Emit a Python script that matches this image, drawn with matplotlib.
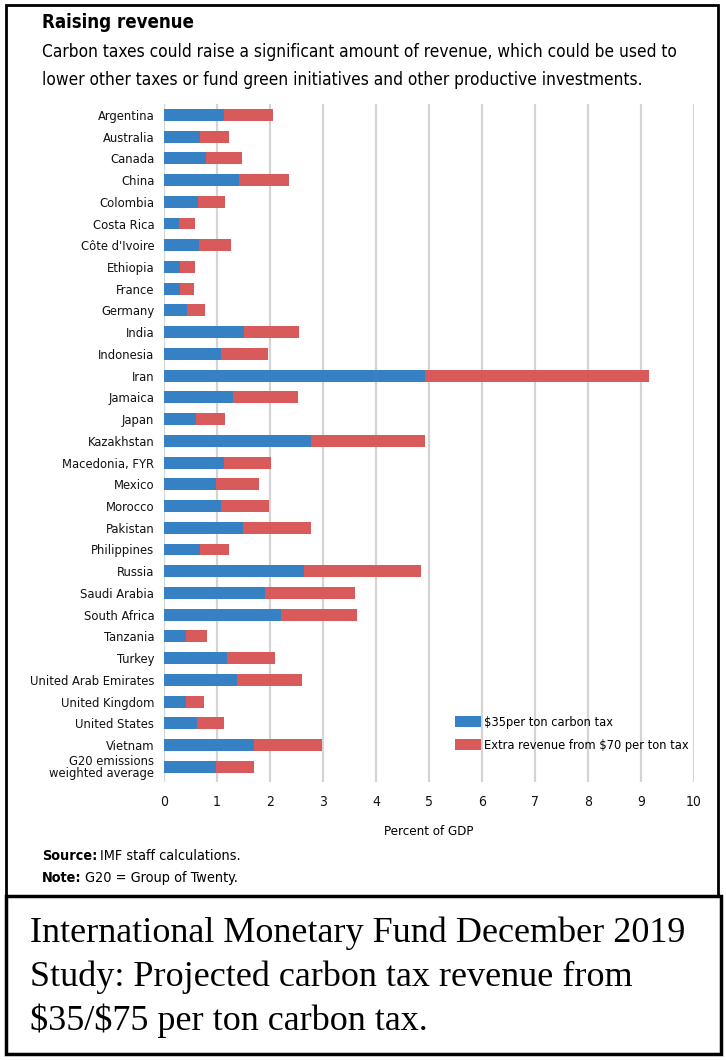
import matplotlib
matplotlib.use("Agg")
import matplotlib.pyplot as plt
from matplotlib.patches import Rectangle

countries = ["Argentina", "Australia", "Canada", "China", "Colombia", "Costa Rica",
             "Côte d'Ivoire", "Ethiopia", "France", "Germany", "India", "Indonesia",
             "Iran", "Jamaica", "Japan", "Kazakhstan", "Macedonia, FYR", "Mexico",
             "Morocco", "Pakistan", "Philippines", "Russia", "Saudi Arabia",
             "South Africa", "Tanzania", "Turkey", "United Arab Emirates",
             "United Kingdom", "United States", "Vietnam",
             "G20 emissions\nweighted average"]
tax_35 = [1.13, 0.67, 0.79, 1.41, 0.65, 0.28, 0.66, 0.30, 0.30, 0.43, 1.50, 1.08,
          4.92, 1.31, 0.61, 2.77, 1.14, 0.98, 1.07, 1.49, 0.67, 2.64, 1.91,
          2.20, 0.42, 1.18, 1.38, 0.42, 0.63, 1.70, 0.99]
extra_70 = [0.93, 0.55, 0.68, 0.94, 0.51, 0.31, 0.61, 0.29, 0.26, 0.35, 1.04, 0.88,
            4.23, 1.21, 0.54, 2.15, 0.87, 0.81, 0.91, 1.29, 0.55, 2.21, 1.70,
            1.44, 0.40, 0.92, 1.23, 0.33, 0.51, 1.28, 0.70]
x_ticks = [0, 1, 2, 3, 4, 5, 6, 7, 8, 9, 10]

BLUE = "#3681c3"
RED = "#d95a5b"
W, H = 726, 1060

plt.rcParams['font.family'] = ['DejaVu Sans']
plt.rcParams['font.stretch'] = 'condensed'

fig = plt.figure(figsize=(W / 100, H / 100), dpi=100)


def fx(px):
    return px / W


def fy(py):
    return 1 - py / H


# frames
fig.add_artist(Rectangle((fx(6), fy(896)), fx(712), 891 / H, transform=fig.transFigure,
                         fill=False, edgecolor="black", lw=2))
fig.add_artist(Rectangle((fx(6), fy(1054)), fx(715), 158 / H, transform=fig.transFigure,
                         fill=False, edgecolor="black", lw=2.5))

ax = fig.add_axes([fx(164), fy(782), fx(694 - 164), (782 - 104) / H])
pos = list(range(len(countries)))
ax.barh(pos, tax_35, height=0.55, color=BLUE, label="\\$35per ton carbon tax", zorder=3)
ax.barh(pos, extra_70, left=tax_35, height=0.55, color=RED,
        label="Extra revenue from \\$70 per ton tax", zorder=3)

ax.set_xlim(0, 10)
ax.set_ylim(len(countries) - 1 + 0.7, -0.5)
ax.set_xticks(x_ticks)
ax.set_yticks(pos)
ax.set_yticklabels(countries, fontsize=9.3, linespacing=0.85)
ax.tick_params(axis="both", length=0, colors="#111111")
ax.tick_params(axis="x", labelsize=10, pad=9)
ax.tick_params(axis="y", pad=7)
for t in x_ticks:
    ax.axvline(t, color="#d4d4d4", lw=1.6, zorder=1)
for s in ax.spines.values():
    s.set_visible(False)
ax.set_xlabel("Percent of GDP", fontsize=9.5, labelpad=12)

ax.legend(loc="upper left", bbox_to_anchor=(fx(455), fy(716)), bbox_transform=fig.transFigure,
          frameon=False, fontsize=9.2, handlelength=2.0, handleheight=0.95,
          handletextpad=0.25, labelspacing=0.75, borderaxespad=0, borderpad=0)

fig.text(fx(42), fy(22), "Raising revenue", fontsize=13.4, fontweight="bold", va="center")
fig.text(fx(42), fy(52), "Carbon taxes could raise a significant amount of revenue, which could be used to",
         fontsize=12.4, va="center")
fig.text(fx(42), fy(80), "lower other taxes or fund green initiatives and other productive investments.",
         fontsize=12.4, va="center")

renderer = fig.canvas.get_renderer()
for yy, head, body in [(856, "Source:", "IMF staff calculations."),
                       (878, "Note:", "G20 = Group of Twenty.")]:
    t = fig.text(fx(42), fy(yy), head, fontsize=10.4, fontweight="bold", va="center")
    bb = t.get_window_extent(renderer)
    fig.text(fx(bb.x1 + 3), fy(yy), body, fontsize=10.4, va="center")

caption = ["International Monetary Fund December 2019",
           "Study: Projected carbon tax revenue from",
           "\\$35/\\$75 per ton carbon tax."]
for i, line in enumerate(caption):
    fig.text(fx(30), fy(933 + 44 * i), line, fontsize=26, family="Liberation Serif",
             stretch="normal", va="center")

fig.savefig("out.png", dpi=100)
